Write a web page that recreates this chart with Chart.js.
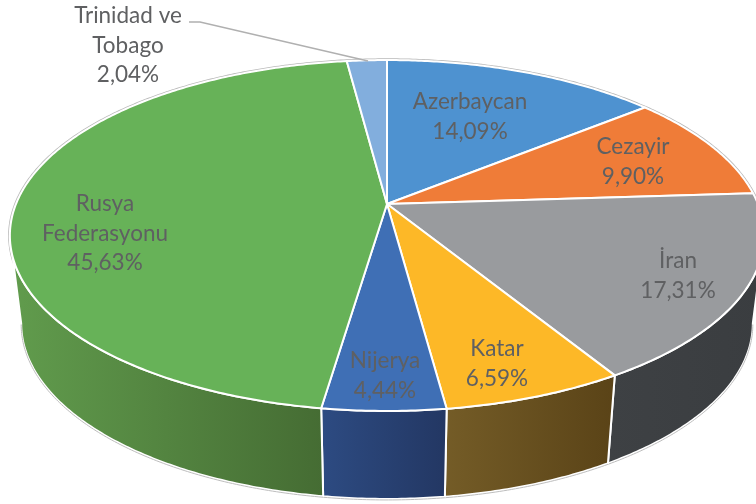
<!DOCTYPE html>
<html>
<head>
<meta charset="utf-8">
<title>Pie</title>
<script src="https://cdn.jsdelivr.net/npm/chart.js@4"></script>
<style>
  html, body { margin: 0; padding: 0; background: #fff; }
  canvas { display: block; filter: blur(0.45px); }
</style>
</head>
<body>
<canvas id="pieChart" width="756" height="504"></canvas>
<script>
// Data
const categories = [['Azerbaycan'], ['Cezayir'], ['İran'], ['Katar'], ['Nijerya'], ['Rusya', 'Federasyonu'], ['Trinidad ve', 'Tobago']];
const shares = [14.09, 9.90, 17.31, 6.59, 4.44, 45.63, 2.04];
const topColors = ['#4E92D0', '#EF7C38', '#999B9E', '#FDB827', '#3F6FB5', '#67B258', '#82AEDD'];
const wallLeft = ['#2F5F8C', '#A0522A', '#3E4144', '#745C27', '#2D4B82', '#619C4D', '#56779A'];
const wallRight = ['#2F5F8C', '#A0522A', '#3A3D40', '#5A4317', '#233763', '#456C33', '#56779A'];

// Label centres, first line middle, 29.5px line step
const labelAnchors = [[470, 102], [633, 147], [678, 261], [497, 349], [385, 361], [105, 204], [128, 16]];

// Perspective of the pie top
const apex = { x: 387, y: 204 };
const view = { a: 371, b: 169.8, k: 0.1795 };
const depth = 88;
const bottomScale = 0.97;

function rimPoint(angle) {
  // angle comes from the arc element, -PI/2 is the top of the pie
  const u = Math.cos(angle);
  const v = Math.sin(angle);
  const w = 1 - view.k * v;
  return { x: apex.x + view.a * u / w, y: apex.y + view.b * v / w };
}

function bottomPoint(angle) {
  const p = rimPoint(angle);
  return { x: apex.x + (p.x - apex.x) * bottomScale, y: p.y + depth };
}

function rimAngles(start, end) {
  const list = [];
  const steps = Math.max(2, Math.ceil((end - start) / 0.01));
  for (let i = 0; i <= steps; i++) list.push(start + (end - start) * i / steps);
  return list;
}

// Only the front of the rim has a wall
function drawWall(ctx, arc, i) {
  const limit = Math.asin(view.k);
  const start = Math.max(arc.startAngle, limit);
  const end = Math.min(arc.endAngle, Math.PI - limit);
  if (end <= start) return;
  const angles = rimAngles(start, end);
  const top = angles.map(rimPoint);
  const bottom = angles.map(bottomPoint).reverse();
  const xs = top.concat(bottom).map(p => p.x);
  const grad = ctx.createLinearGradient(Math.min(...xs), 0, Math.max(...xs), 0);
  grad.addColorStop(0, wallLeft[i]);
  grad.addColorStop(1, wallRight[i]);
  ctx.beginPath();
  top.concat(bottom).forEach((p, n) => n ? ctx.lineTo(p.x, p.y) : ctx.moveTo(p.x, p.y));
  ctx.closePath();
  ctx.fillStyle = grad;
  ctx.fill();
  ctx.strokeStyle = '#fff';
  ctx.lineWidth = 2;
  ctx.stroke();
  // thin grey halo along the bottom
  ctx.beginPath();
  angles.map(bottomPoint).forEach((p, n) => n ? ctx.lineTo(p.x, p.y + 1) : ctx.moveTo(p.x, p.y + 1));
  ctx.strokeStyle = '#bdbdbd';
  ctx.lineWidth = 1;
  ctx.stroke();
}

function drawTop(ctx, arc, i) {
  ctx.beginPath();
  ctx.moveTo(apex.x, apex.y);
  rimAngles(arc.startAngle, arc.endAngle).map(rimPoint).forEach(p => ctx.lineTo(p.x, p.y));
  ctx.closePath();
  ctx.fillStyle = topColors[i];
  ctx.fill();
  ctx.strokeStyle = '#fff';
  ctx.lineWidth = 2;
  ctx.stroke();
}

const pie3d = {
  id: 'pie3d',
  // the library works out the angles, the perspective is painted here
  beforeDatasetDraw(chart) {
    const ctx = chart.ctx;
    const arcs = chart.getDatasetMeta(0).data;
    ctx.save();
    ctx.lineJoin = 'round';
    // rim halo behind everything
    ctx.beginPath();
    rimAngles(0, Math.PI * 2).map(rimPoint).forEach((p, n) => n ? ctx.lineTo(p.x, p.y) : ctx.moveTo(p.x, p.y));
    ctx.closePath();
    ctx.strokeStyle = '#b8b8b8';
    ctx.lineWidth = 3.5;
    ctx.stroke();
    arcs.forEach((arc, i) => drawWall(ctx, arc, i));
    arcs.forEach((arc, i) => drawTop(ctx, arc, i));
    ctx.restore();
    return false;
  },
  afterDatasetsDraw(chart) {
    const ctx = chart.ctx;
    ctx.save();
    // leader line for the small slice
    ctx.beginPath();
    ctx.moveTo(189, 22);
    ctx.lineTo(200, 22);
    ctx.lineTo(368, 61);
    ctx.strokeStyle = '#b0b0b0';
    ctx.lineWidth = 1.5;
    ctx.stroke();
    ctx.font = '22.5px Lato';
    ctx.textAlign = 'center';
    ctx.textBaseline = 'middle';
    ctx.fillStyle = '#5f6062';
    categories.forEach((lines, i) => {
      const text = lines.concat(shares[i].toFixed(2).replace('.', ',') + '%');
      text.forEach((line, n) => ctx.fillText(line, labelAnchors[i][0], labelAnchors[i][1] + n * 29.5));
    });
    ctx.restore();
  }
};

const pieChart = new Chart(document.getElementById('pieChart'), {
  type: 'pie',
  data: {
    labels: categories,
    datasets: [{ data: shares, backgroundColor: topColors }]
  },
  options: {
    responsive: false,
    animation: false,
    plugins: { legend: { display: false }, tooltip: { enabled: false } }
  },
  plugins: [pie3d]
});
</script>
</body>
</html>
